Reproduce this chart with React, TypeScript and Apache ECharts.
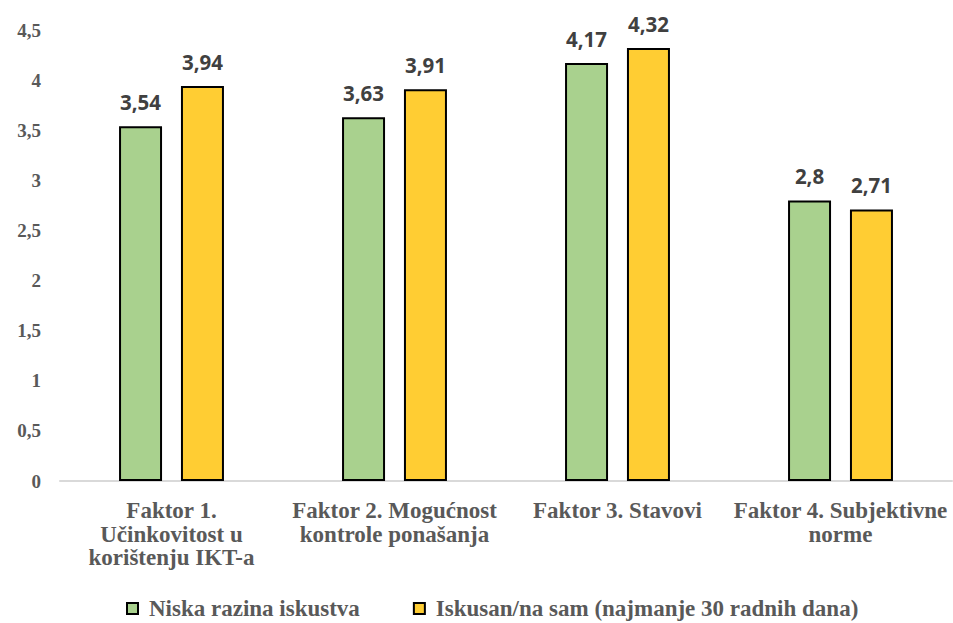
import React, { useEffect, useRef } from "react";
import * as echarts from "echarts";

const categories = [
  "Faktor 1.\nUčinkovitost u\nkorištenju IKT-a",
  "Faktor 2. Mogućnost\nkontrole ponašanja",
  "Faktor 3. Stavovi",
  "Faktor 4. Subjektivne\nnorme",
];
const seriesNames = ["Niska razina iskustva", "Iskusan/na sam (najmanje 30 radnih dana)"];
const lowExperience = [3.54, 3.63, 4.17, 2.8];
const experienced = [3.94, 3.91, 4.32, 2.71];

const fmt = (v: number) => String(v).replace(".", ",");

export default function App() {
  const ref = useRef<HTMLDivElement>(null);
  useEffect(() => {
    document.body.style.margin = "0";
    const chart = echarts.init(ref.current!, null, { renderer: "svg" });
    const serif = "'Liberation Serif', 'Times New Roman', serif";
    const sans = "'Open Sans', 'Noto Sans', sans-serif";
    const labelCfg = {
      show: true,
      position: "top" as const,
      distance: 14,
      fontFamily: sans,
      fontWeight: "bold" as const,
      fontSize: 20.5,
      color: "#404040",
      formatter: (p: any) => fmt(p.value),
    };
    chart.setOption({
      animation: false,
      backgroundColor: "#ffffff",
      grid: { left: 60, right: 1, top: 30, bottom: 142, containLabel: false },
      legend: {
        bottom: -2,
        left: 121,
        itemWidth: 11,
        itemHeight: 11,
        itemGap: 53,
        icon: "rect",
        textStyle: { fontFamily: serif, fontWeight: "bold", fontSize: 23, color: "#595959", padding: [0, 0, 0, 6] },
        data: seriesNames,
      },
      xAxis: {
        type: "category",
        data: categories,
        axisLine: { lineStyle: { color: "#D9D9D9", width: 2 } },
        axisTick: { show: false },
        axisLabel: {
          fontFamily: serif,
          fontWeight: "bold",
          fontSize: 23,
          lineHeight: 23.5,
          color: "#595959",
          margin: 18,
          interval: 0,
        },
      },
      yAxis: {
        type: "value",
        min: 0,
        max: 4.5,
        interval: 0.5,
        splitLine: { show: false },
        axisLine: { show: false },
        axisTick: { show: false },
        axisLabel: {
          fontFamily: serif,
          fontWeight: "bold",
          fontSize: 19,
          color: "#595959",
          margin: 19,
          formatter: (v: number) => fmt(v),
        },
      },
      series: [
        {
          name: seriesNames[0],
          type: "bar",
          data: lowExperience,
          barWidth: 43,
          barGap: "44%",
          itemStyle: { color: "#A9D18E", borderColor: "#000000", borderWidth: 2 },
          label: labelCfg,
        },
        {
          name: seriesNames[1],
          type: "bar",
          data: experienced,
          barWidth: 43,
          barGap: "44%",
          itemStyle: { color: "#FFCD33", borderColor: "#000000", borderWidth: 2 },
          label: labelCfg,
        },
      ],
    });
    return () => chart.dispose();
  }, []);
  return <div ref={ref} style={{ width: 953, height: 623 }} />;
}
